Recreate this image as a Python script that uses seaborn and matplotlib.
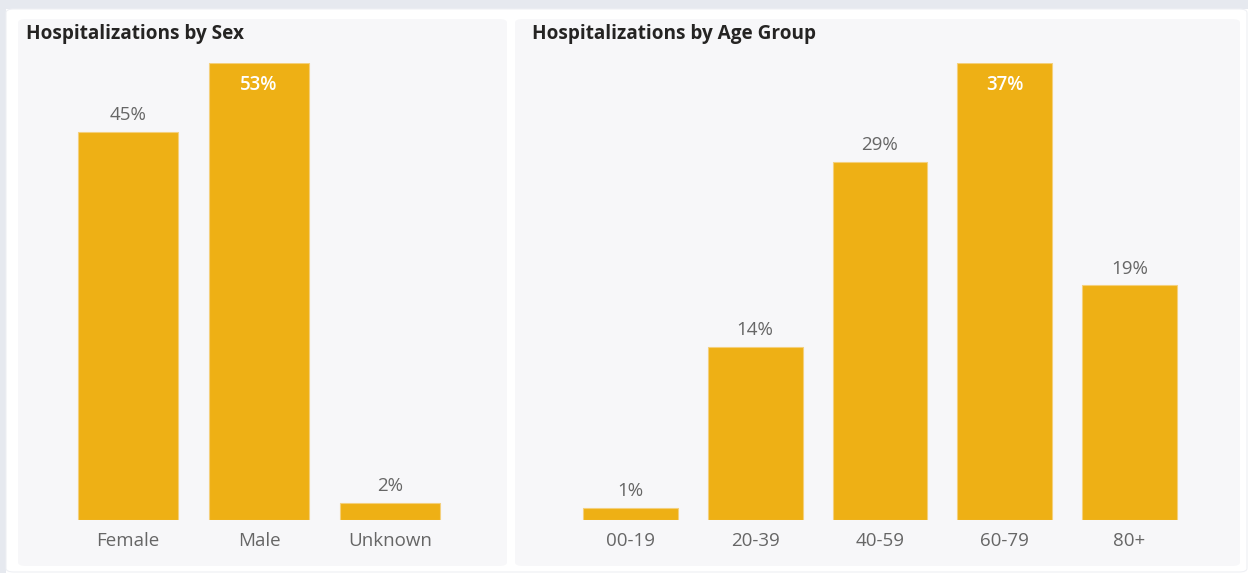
import matplotlib
matplotlib.use("Agg")
import matplotlib.pyplot as plt
from matplotlib.patches import FancyBboxPatch, Rectangle
import seaborn as sns
import pandas as pd

sns.set_theme(style="white")
plt.rcParams["font.family"] = ["Open Sans", "DejaVu Sans"]

# Data
sex_categories = ["Female", "Male", "Unknown"]
sex_values = [45, 53, 2]
age_categories = ["00-19", "20-39", "40-59", "60-79", "80+"]
age_values = [1, 14, 29, 37, 19]

BAR_COLOR = "#EEB015"
PANEL_BG = "#F7F7F9"
TEXT_GRAY = "#666666"

W, H = 1248, 573
fig = plt.figure(figsize=(W / 100, H / 100), dpi=100)
fig.patch.set_facecolor("white")


def px_rect(x0, y0, x1, y1):
    """Convert pixel box (top-left origin) to figure fraction [l, b, w, h]."""
    return [x0 / W, 1 - y1 / H, (x1 - x0) / W, (y1 - y0) / H]


def add_box(x0, y0, x1, y1, color, pad=6, edge="none", z=-2):
    l, b, w, h = px_rect(x0, y0, x1, y1)
    box = FancyBboxPatch((l, b), w, h,
                         boxstyle=f"round,pad=0,rounding_size={pad / W}",
                         transform=fig.transFigure, facecolor=color,
                         edgecolor=edge, linewidth=0.8, zorder=z)
    fig.patches.append(box)


def add_strip(x0, y0, x1, y1, color):
    l, b, w, h = px_rect(x0, y0, x1, y1)
    fig.patches.append(Rectangle((l, b), w, h, transform=fig.transFigure,
                                 facecolor=color, edgecolor="none", zorder=-4))


# Page background strips, white container and the two card panels
add_strip(0, 0, W, 9, "#E6E9EF")
add_strip(0, 0, 6, H, "#E6E9EF")
add_box(6, 9, 1247, 572, "white", pad=8, edge="#EEF0F4", z=-3)
add_box(18, 19, 507, 566, PANEL_BG, pad=8)
add_box(515, 19, 1240, 566, PANEL_BG, pad=8)


def draw_panel(rect, cats, vals, title, title_x, inside_idx):
    ax = fig.add_axes(px_rect(*rect))
    df = pd.DataFrame({"cat": cats, "val": vals})
    sns.barplot(data=df, x="cat", y="val", color=BAR_COLOR, saturation=1,
                width=0.76, edgecolor="#F4D07C", linewidth=0.8, ax=ax)
    ax.set_xlim(-0.5, len(cats) - 0.5)
    ax.set_ylim(0, max(vals))
    ax.patch.set_alpha(0)
    for s in ax.spines.values():
        s.set_visible(False)
    ax.set_yticks([])
    ax.set_xlabel("")
    ax.set_ylabel("")
    ax.tick_params(axis="x", length=0, pad=9, labelsize=13.5,
                   labelcolor=TEXT_GRAY)
    for i, v in enumerate(vals):
        if i == inside_idx:
            ax.annotate(f"{v}%", (i, v), xytext=(0, -16),
                        textcoords="offset points", ha="center", va="center",
                        color="white", fontsize=13.5, fontweight="semibold",
                        annotation_clip=False)
        else:
            ax.annotate(f"{v}%", (i, v), xytext=(0, 12),
                        textcoords="offset points", ha="center", va="center",
                        color=TEXT_GRAY, fontsize=13.5, annotation_clip=False)
    fig.text(title_x / W, 1 - 34 / H, title, fontsize=13.7, fontweight="bold",
             color="#252423", ha="left", va="center")
    return ax


draw_panel((62, 63, 456, 520), sex_categories, sex_values,
           "Hospitalizations by Sex", 26, 1)
draw_panel((568, 63, 1192, 520), age_categories, age_values,
           "Hospitalizations by Age Group", 532, 3)

fig.savefig("out.png", dpi=100, facecolor=fig.get_facecolor())
